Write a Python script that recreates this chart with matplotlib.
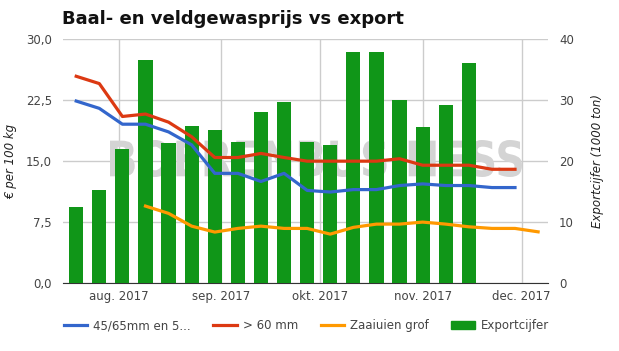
import numpy as np
import matplotlib
matplotlib.use("Agg")
import matplotlib.pyplot as plt
from matplotlib.lines import Line2D
from matplotlib.patches import Patch, PathPatch
from matplotlib.textpath import TextPath
from matplotlib.font_manager import FontProperties
from matplotlib.transforms import Affine2D

# weekly dates (2017)
weeks = np.arange(np.datetime64("2017-07-19"), np.datetime64("2017-12-07"), np.timedelta64(7, "D"))
export = [12.5, 15.2, 22.0, 36.6, 23.0, 25.7, 25.1, 23.2, 28.1, 29.7, 23.2, 22.6,
          37.9, 37.9, 30.0, 25.6, 29.3, 36.1]
blue_vals = [22.4, 21.5, 19.55, 19.55, 18.6, 17.0, 13.5, 13.5, 12.5, 13.5, 11.4, 11.2,
             11.5, 11.5, 12.0, 12.2, 12.0, 12.0, 11.75, 11.75]
red_vals = [25.45, 24.55, 20.5, 20.8, 19.8, 18.0, 15.45, 15.45, 15.95, 15.45, 15.0, 15.0,
            15.0, 15.0, 15.3, 14.5, 14.5, 14.5, 14.0, 14.0]
orange_vals = [9.47, 8.57, 7.0, 6.27, 6.72, 7.0, 6.72, 6.72, 6.02, 6.85, 7.25, 7.25,
               7.5, 7.25, 6.92, 6.72, 6.72, 6.3]
month_ticks = ["2017-08-01", "2017-09-01", "2017-10-01", "2017-11-01", "2017-12-01"]
month_labels = ["aug. 2017", "sep. 2017", "okt. 2017", "nov. 2017", "dec. 2017"]
left_ticks = [0, 7.5, 15, 22.5, 30]
left_labels = ["0,0", "7,5", "15,0", "22,5", "30,0"]
right_ticks = [0, 10, 20, 30, 40]
series_names = ["45/65mm en 5...", "> 60 mm", "Zaaiuien grof", "Exportcijfer"]

BLUE, RED, ORANGE, GREEN = "#3366cc", "#dc3912", "#ff9900", "#109618"
TXT = "#444444"
W, H = 619, 351

dates = weeks.astype("datetime64[D]").astype(object)
bar_dates = dates[:len(export)]
blue_dates = dates[:len(blue_vals)]
orange_dates = dates[3:3 + len(orange_vals)]

fig = plt.figure(figsize=(6.19, 3.51), dpi=100)
ax = fig.add_axes([0.1018, 0.1937, 0.7835, 0.6943])
ax2 = ax.twinx()

# bars on ax (behind), lines on ax2 so they come on top
ax.bar(bar_dates, export, width=4.3, color=GREEN, zorder=3)
ax.set_ylim(0, 40)

ax2.plot(blue_dates, blue_vals, color=BLUE, lw=2.3, zorder=4)
ax2.plot(blue_dates, red_vals, color=RED, lw=2.3, zorder=4)
ax2.plot(orange_dates, orange_vals, color=ORANGE, lw=2.3, zorder=4)
ax2.set_ylim(0, 30)

xmin = np.datetime64("2017-07-15").astype(object)
xmax = np.datetime64("2017-12-09").astype(object)
ax.set_xlim(xmin, xmax)

# price axis on the left, export axis on the right
ax.yaxis.tick_right()
ax.yaxis.set_label_position("right")
ax2.yaxis.tick_left()
ax2.yaxis.set_label_position("left")

ax.set_yticks(right_ticks)
ax.set_yticklabels([str(t) for t in right_ticks])
ax2.set_yticks(left_ticks)
ax2.set_yticklabels(left_labels)

mt = [np.datetime64(m).astype(object) for m in month_ticks]
ax.set_xticks(mt)
ax.set_xticklabels(month_labels)

for a in (ax, ax2):
    for s in ["top", "left", "right"]:
        a.spines[s].set_visible(False)
    a.tick_params(length=0, labelsize=8.5, colors=TXT, pad=8)
ax2.spines["bottom"].set_visible(False)
ax.spines["bottom"].set_color("#333333")
ax.tick_params(axis="x", pad=5)

ax.grid(True, color="#cccccc", lw=1, zorder=0)
ax.set_axisbelow(True)

ax2.set_ylabel("€ per 100 kg", fontsize=8.5, style="italic", color="#222222", labelpad=6)
ax.set_ylabel("Exportcijfer (1000 ton)", fontsize=8.5, style="italic", color="#222222",
              labelpad=12)

# watermark, stretched to fill its box (pixels from top-left: x 110-522, y 140-177)
tp = TextPath((0, 0), "BOERENBUSINESS", size=10, prop=FontProperties(family="DejaVu Sans", weight="bold"))
ext = tp.get_extents()
x0, x1, y0, y1 = 110 / W, 522 / W, 1 - 177 / H, 1 - 140 / H
tr = (Affine2D().translate(-ext.x0, -ext.y0)
      .scale((x1 - x0) / ext.width, (y1 - y0) / ext.height)
      .translate(x0, y0))
wm = PathPatch(tr.transform_path(tp), facecolor="#d4d4d4", edgecolor="none",
               transform=fig.transFigure, zorder=1, clip_on=False)
ax.add_patch(wm)

fig.text(0.1, 0.945, "Baal- en veldgewasprijs vs export", fontsize=13,
         fontweight="bold", color="#111111", ha="left", va="center")

handles = [Line2D([], [], color=BLUE, lw=2.3),
           Line2D([], [], color=RED, lw=2.3),
           Line2D([], [], color=ORANGE, lw=2.3),
           Patch(color=GREEN)]
fig.legend(handles, series_names, loc="center", bbox_to_anchor=(0.495, 0.072), ncol=4,
           frameon=False, fontsize=8.5, handlelength=2.0, handletextpad=0.5,
           columnspacing=1.9, labelcolor=TXT)

fig.savefig("out.png", dpi=100)
